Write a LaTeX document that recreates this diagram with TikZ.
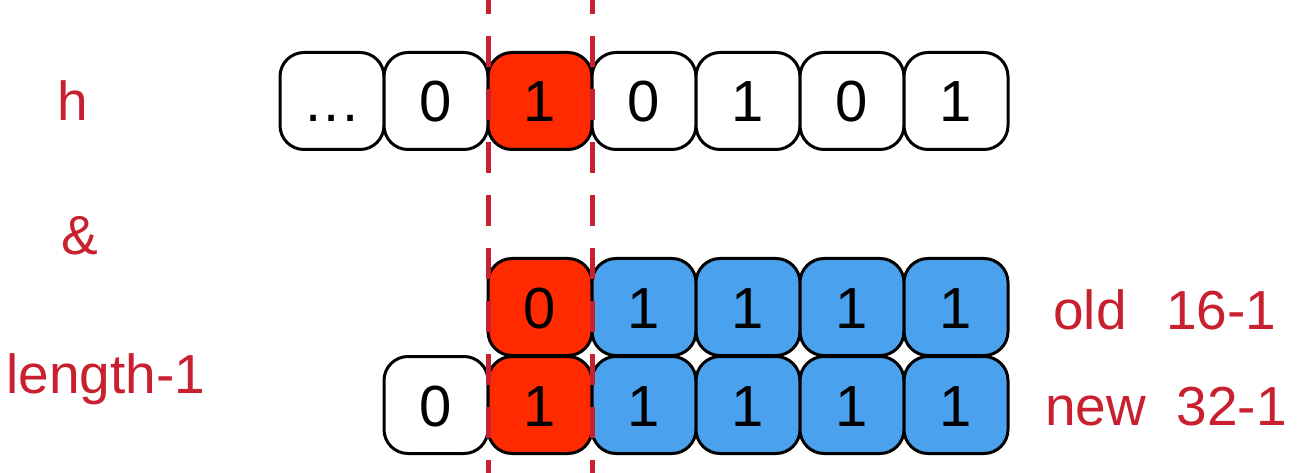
\documentclass[tikz,border=0pt]{standalone}
\usepackage{fontspec}
\setmainfont{Liberation Sans}
\definecolor{lblred}{HTML}{C8202F}
\definecolor{cellred}{HTML}{FF2A00}
\definecolor{cellblue}{HTML}{4AA2EE}
\begin{document}
\begin{tikzpicture}[x=1pt,y=-1pt,
  cell/.style={draw=black, line width=3pt, rounded corners=24pt,
    minimum width=104pt, minimum height=97pt, inner sep=0pt,
    text height=42pt, text depth=0pt,
    font=\fontsize{58}{60}\selectfont, fill=white},
  hot/.style={cell, fill=cellred},
  ones/.style={cell, fill=cellblue},
  lbl/.style={text=lblred, font=\fontsize{55}{60}\selectfont, inner sep=0pt},
  guide/.style={draw=lblred, line width=5pt, dash pattern=on 31pt off 22pt, dash phase=17pt}]

\fill[white] (0,0) rectangle (1302,473);
\useasboundingbox (0,0) rectangle (1302,473);

% row h
\node[cell] (h0) at (332,101) {.\kern2pt.\kern2pt.};
\node[cell] (h1) at (436,101) {0};
\node[hot]  (h2) at (540,101) {1};
\node[cell] (h3) at (644,101) {0};
\node[cell] (h4) at (748,101) {1};
\node[cell] (h5) at (852,101) {0};
\node[cell] (h6) at (956,101) {1};

% old mask 16-1
\node[hot]  (o2) at (540,307) {0};
\node[ones] (o3) at (644,307) {1};
\node[ones] (o4) at (748,307) {1};
\node[ones] (o5) at (852,307) {1};
\node[ones] (o6) at (956,307) {1};

% new mask 32-1
\node[cell] (n1) at (436,405) {0};
\node[hot]  (n2) at (540,405) {1};
\node[ones] (n3) at (644,405) {1};
\node[ones] (n4) at (748,405) {1};
\node[ones] (n5) at (852,405) {1};
\node[ones] (n6) at (956,405) {1};

% guide lines around the deciding bit
\coordinate (gl top) at (488,0);
\coordinate (gl bot) at (488,473);
\coordinate (gr top) at (592,0);
\coordinate (gr bot) at (592,473);
\draw[guide] (gl top) -- (gl bot);
\draw[guide] (gr top) -- (gr bot);

% labels
\node[lbl, anchor=base] (lh) at (73,121) {h};
\node[lbl, anchor=base] (land) at (80,255) {\&};
\node[lbl, anchor=base] (llen) at (106,393) {length-1};
\node[lbl, anchor=base west] (lold) at (1053,330) {old~~\hspace{9pt}16-1};
\node[lbl, anchor=base west] (lnew) at (1045,425) {new~~32-1};
\end{tikzpicture}
\end{document}
